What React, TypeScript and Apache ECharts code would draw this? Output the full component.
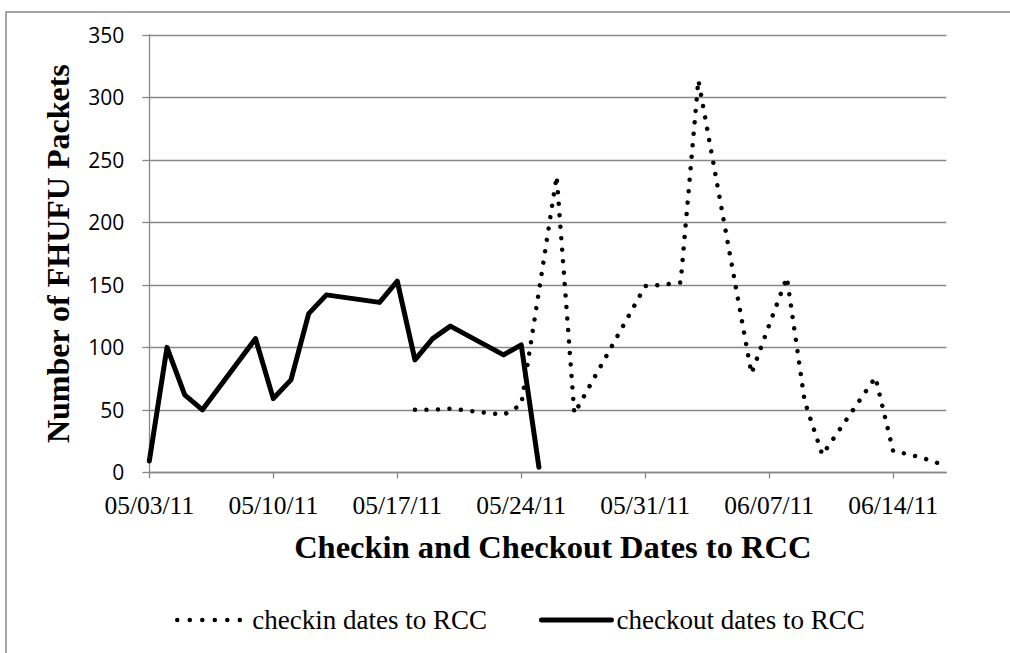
import React, { useEffect, useRef } from "react";
import * as echarts from "echarts";

// ---- data ----
const checkoutDates = [
  "2011-05-03", "2011-05-04", "2011-05-05", "2011-05-06", "2011-05-09",
  "2011-05-10", "2011-05-11", "2011-05-12", "2011-05-13", "2011-05-16",
  "2011-05-17", "2011-05-18", "2011-05-19", "2011-05-20", "2011-05-23",
  "2011-05-24", "2011-05-25",
];
const checkoutValues = [9, 100, 62, 50, 107, 59, 74, 127, 142, 136, 153, 90, 107, 117, 94, 102, 4];

const checkinDates = [
  "2011-05-18", "2011-05-19", "2011-05-20", "2011-05-23", "2011-05-24",
  "2011-05-25", "2011-05-26", "2011-05-27", "2011-05-31", "2011-06-01",
  "2011-06-02", "2011-06-03", "2011-06-06", "2011-06-07", "2011-06-08",
  "2011-06-09", "2011-06-10", "2011-06-13", "2011-06-14", "2011-06-15",
  "2011-06-16", "2011-06-17",
];
const checkinValues = [50, 50, 51, 46, 54, 145, 237, 47, 149, 150, 152, 314, 79, 118, 156, 57, 14, 76, 17, 14, 10, 5];

const xTickDates = ["2011-05-03", "2011-05-10", "2011-05-17", "2011-05-24", "2011-05-31", "2011-06-07", "2011-06-14"];
const axisStartDate = "2011-05-03";
const axisEndDate = "2011-06-17";

const seriesNames = ["checkin dates to RCC", "checkout dates to RCC"];
const xAxisTitle = "Checkin and Checkout Dates to RCC";
const yAxisTitle = "Number of FHUFU Packets";

const toTime = (d: string) => {
  const [y, m, dd] = d.split("-").map(Number);
  return new Date(y, m - 1, dd).getTime();
};
const pad = (n: number) => (n < 10 ? "0" + n : "" + n);
const fmtDate = (v: number) => {
  const d = new Date(v);
  return `${pad(d.getMonth() + 1)}/${pad(d.getDate())}/${pad(d.getFullYear() % 100)}`;
};

const SERIF = "'Times New Roman', 'Liberation Serif', serif";
const SANS = "'Open Sans', 'Noto Sans', sans-serif";
const GRID = "#888888";

export default function App() {
  const ref = useRef<HTMLDivElement>(null);
  useEffect(() => {
    if (!ref.current) return;
    const chart = echarts.init(ref.current, undefined, { renderer: "svg" });
    const dotted = { width: 4.5, type: [0.01, 11.5] as any, cap: "round" as const, color: "#000" };
    const solid = { width: 5, type: "solid" as const, cap: "round" as const, join: "round" as const, color: "#000" };
    chart.setOption({
      animation: false,
      backgroundColor: "#ffffff",
      grid: { left: 149.3, right: 63.7, top: 35, bottom: 180.7 },
      xAxis: {
        type: "value",
        min: toTime(axisStartDate),
        max: toTime(axisEndDate),
        name: xAxisTitle,
        nameLocation: "middle",
        nameGap: 58,
        nameTextStyle: { fontFamily: SERIF, fontWeight: "bold", fontSize: 32.5, color: "#000", padding: [0, 0, 0, 10] },
        axisLine: { show: true, lineStyle: { color: GRID, width: 1.3 } },
        axisTick: { show: true, length: 6, lineStyle: { color: GRID, width: 1.3 }, customValues: xTickDates.map(toTime) },
        axisLabel: {
          customValues: xTickDates.map(toTime),
          formatter: (v: number) => fmtDate(v),
          fontFamily: SERIF,
          fontSize: 25.5,
          color: "#000",
          margin: 20,
        },
        splitLine: { show: false },
      },
      yAxis: {
        type: "value",
        min: 0,
        max: 350,
        interval: 50,
        name: yAxisTitle,
        nameLocation: "middle",
        nameGap: 75,
        nameRotate: 90,
        nameTextStyle: { fontFamily: SERIF, fontWeight: "bold", fontSize: 32, color: "#000" },
        axisLine: { show: true, lineStyle: { color: GRID, width: 1.3 } },
        axisTick: { show: true, length: 7, lineStyle: { color: GRID, width: 1.3 } },
        axisLabel: { fontFamily: SANS, fontSize: 21, color: "#000", margin: 25 },
        splitLine: { show: true, lineStyle: { color: GRID, width: 1.3 } },
      },
      legend: {
        left: 175,
        top: 606,
        padding: 0,
        itemWidth: 70,
        itemHeight: 14,
        itemGap: 52,
        itemStyle: { opacity: 0, borderWidth: 0 },
        textStyle: { fontFamily: SERIF, fontSize: 27, color: "#000", lineHeight: 28 },
        data: [
          {
            name: seriesNames[0],
            itemStyle: { opacity: 0, borderWidth: 0 },
            lineStyle: { width: 4.5, type: [0.01, 12.5], cap: "round", color: "#000", opacity: 1 },
          },
          {
            name: seriesNames[1],
            itemStyle: { opacity: 0, borderWidth: 0 },
            lineStyle: { width: 5, type: "solid", color: "#000", opacity: 1 },
          },
        ],
      },
      graphic: [
        {
          type: "rect",
          shape: { x: 6, y: 12, width: 1100, height: 700 },
          style: { fill: "none", stroke: "#868686", lineWidth: 1.5 },
          silent: true,
        },
      ],
      series: [
        {
          name: seriesNames[0],
          type: "line",
          symbol: "none",
          z: 3,
          lineStyle: dotted,
          itemStyle: { color: "#000" },
          data: checkinDates.map((d, i) => [toTime(d), checkinValues[i]]),
        },
        {
          name: seriesNames[1],
          type: "line",
          symbol: "none",
          z: 2,
          lineStyle: solid,
          itemStyle: { color: "#000" },
          data: checkoutDates.map((d, i) => [toTime(d), checkoutValues[i]]),
        },
      ],
    });
    return () => chart.dispose();
  }, []);
  return (
    <div
      ref={ref}
      style={{ position: "absolute", left: 0, top: 0, width: 1010, height: 653, background: "#fff" }}
    />
  );
}
